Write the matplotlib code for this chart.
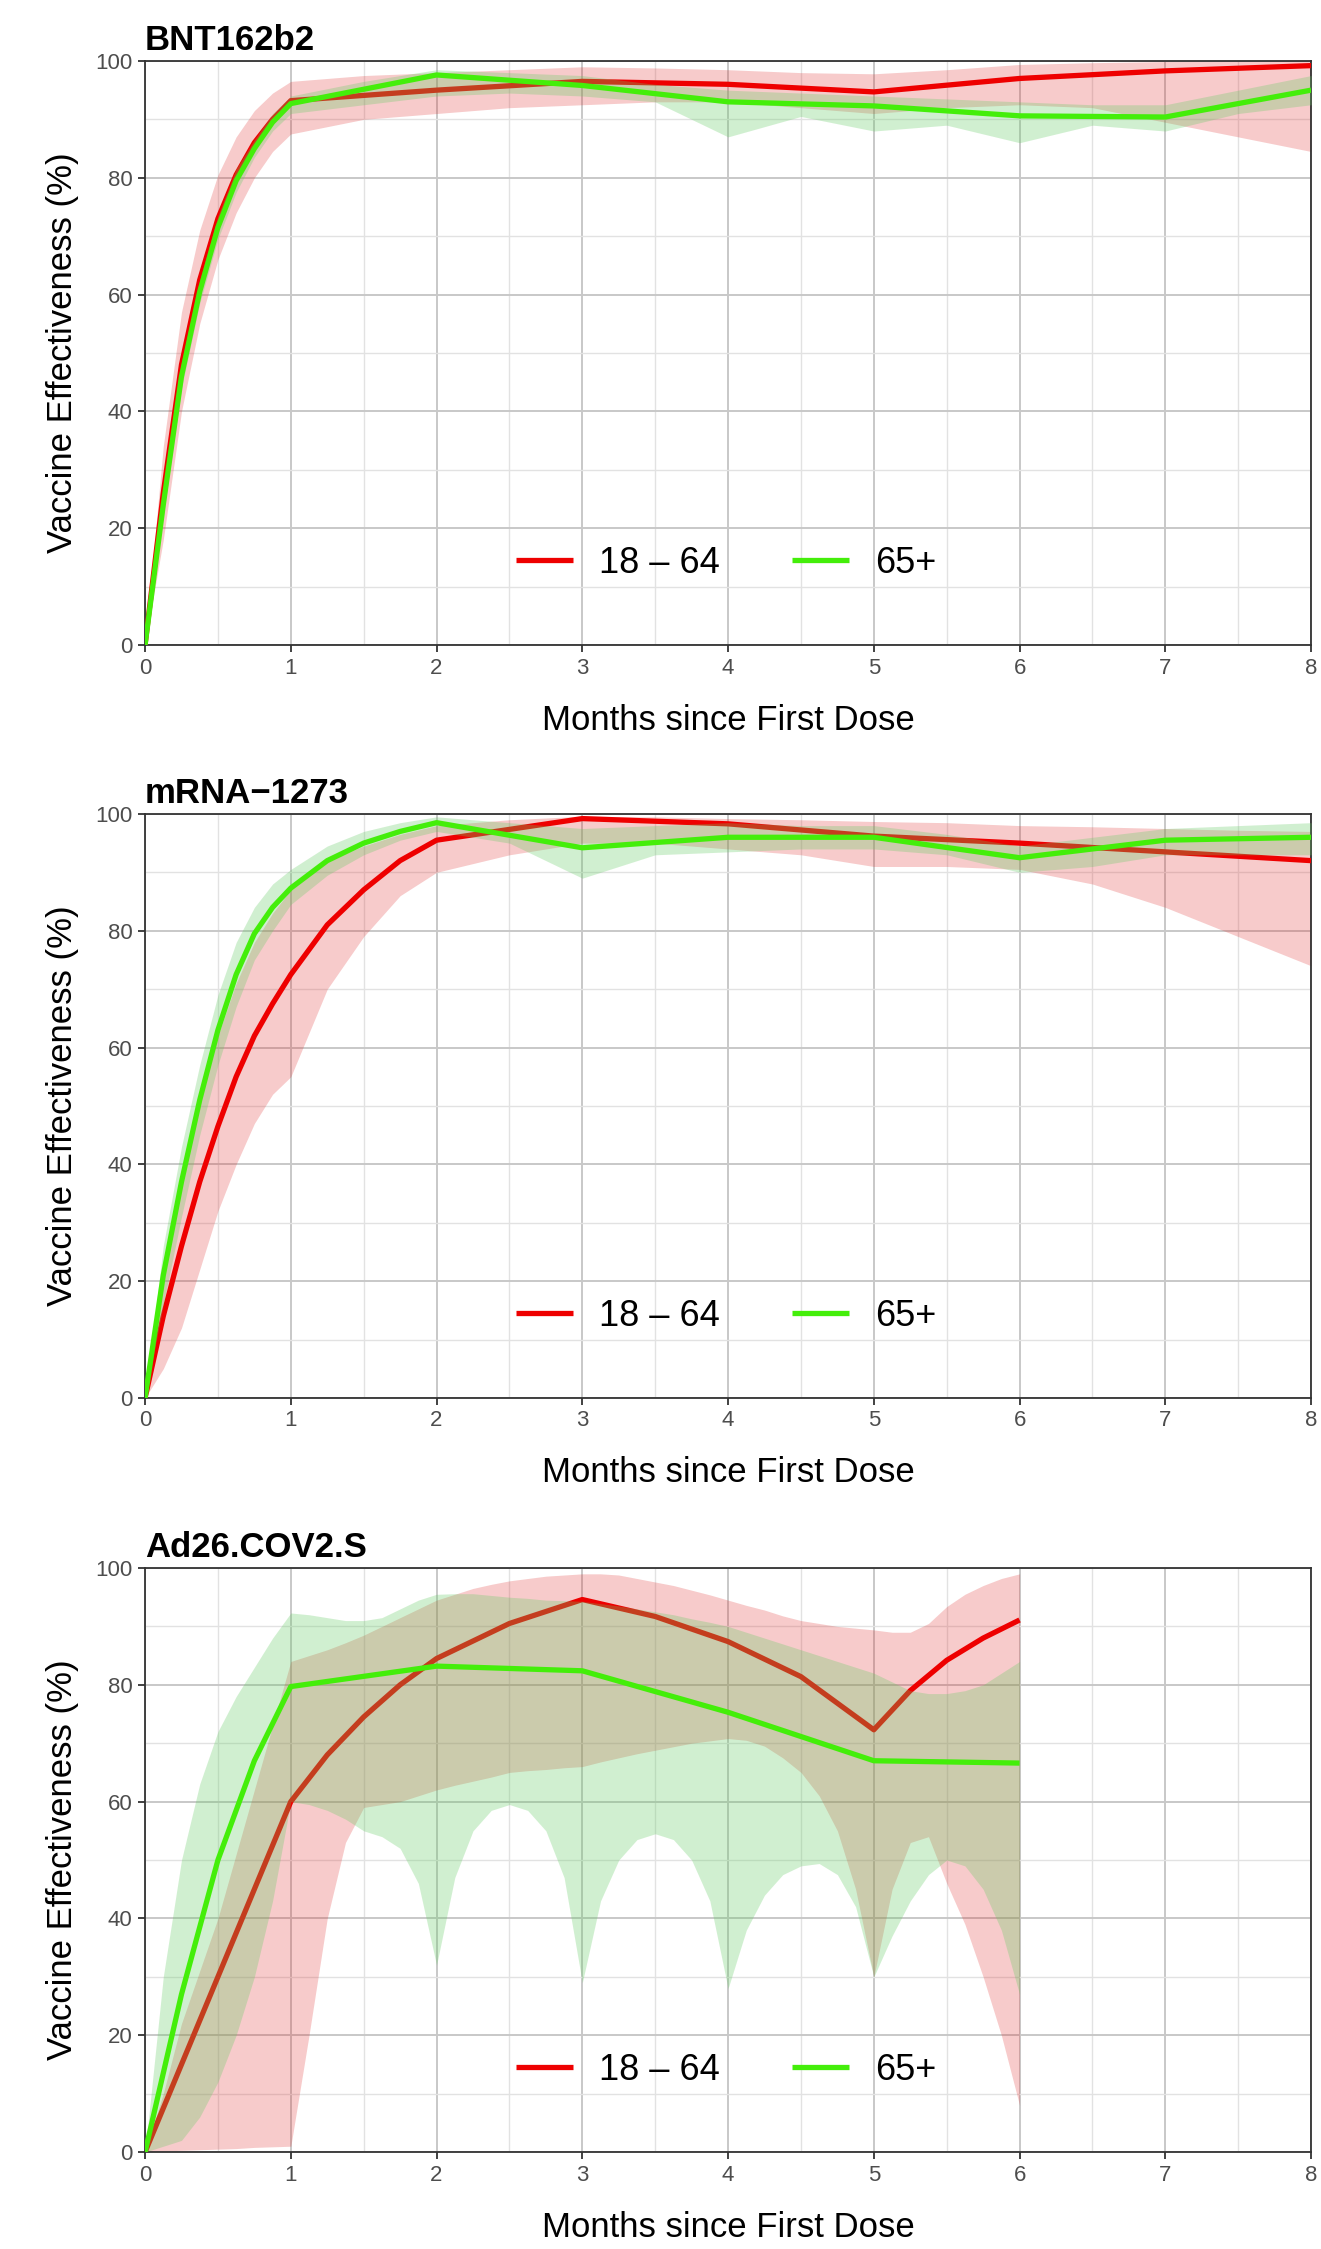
import matplotlib.pyplot as plt
import numpy as np

plt.rcParams['font.family'] = ['Liberation Sans', 'DejaVu Sans']

vaccines = ['BNT162b2', 'mRNA\u22121273', 'Ad26.COV2.S']
groups = ['18 \u2013 64', '65+']

# ---- BNT162b2 ----
bnt_line_x = [0, .125, .25, .375, .5, .625, .75, .875, 1, 2, 3, 4, 5, 6, 7, 8]
bnt_young = [0, 26, 48, 62.5, 73, 80.5, 86, 90, 93.2, 95, 96.5, 96, 94.7, 97, 98.3, 99.2]
bnt_old = [0, 24, 46, 60.5, 71.5, 79.5, 85, 89.5, 92.7, 97.6, 95.8, 93, 92.3, 90.6, 90.4, 95]
bnt_band_x = [0, .125, .25, .375, .5, .625, .75, .875, 1, 1.5, 2, 2.5, 3, 3.5, 4, 4.5, 5, 5.5, 6, 6.5, 7, 7.5, 8]
bnt_young_lo = [0, 18, 40, 55, 66, 74, 80, 84.5, 87.5, 90, 91, 92, 92.5, 93, 93, 92, 91, 92, 92.5, 92, 89.5, 87, 84.5]
bnt_young_hi = [0, 34, 57, 71, 80.5, 87, 91.5, 94.5, 96.5, 97.5, 98, 98.5, 99, 98.8, 98.5, 98, 97.8, 98.5, 99.4, 99.7, 99.9, 100, 100]
bnt_old_lo = [0, 22, 44, 58.5, 69.5, 77.5, 83.5, 88, 91, 92.5, 94, 94.5, 94, 93, 87, 90.5, 88, 89, 86, 89, 88, 91, 92.5]
bnt_old_hi = [0, 26, 48.5, 62.5, 73.5, 81.5, 86.5, 91, 94, 96.5, 98.5, 98, 97.5, 96, 95, 94.5, 94, 93.5, 93, 92.5, 92.5, 95, 97.5]

# ---- mRNA-1273 ----
mod_line_x = [0, .125, .25, .375, .5, .625, .75, .875, 1, 1.25, 1.5, 1.75, 2, 3, 4, 5, 6, 7, 8]
mod_young = [0, 14, 26, 37, 46.5, 55, 62, 67.5, 72.5, 81, 87, 92, 95.5, 99.2, 98.3, 96.2, 95, 93.5, 92]
mod_old = [0, 21, 37, 51, 63, 72.5, 79.5, 84, 87.3, 92, 95, 97, 98.5, 94.2, 96, 96, 92.5, 95.5, 96]
mod_band_x = [0, .125, .25, .375, .5, .625, .75, .875, 1, 1.25, 1.5, 1.75, 2, 2.5, 3, 3.5, 4, 4.5, 5, 5.5, 6, 6.5, 7, 7.5, 8]
mod_young_lo = [0, 5, 12, 22, 32, 40, 47, 52, 55, 70, 79, 86, 90, 93, 95, 95, 94, 93, 91, 91, 90.5, 88, 84, 79, 74]
mod_young_hi = [0, 23, 39, 51, 62, 71, 78, 83, 87, 92, 94.5, 96.5, 98, 99, 99.6, 99.5, 99.2, 99, 98.7, 98.5, 98, 97.8, 97.5, 97.2, 97]
mod_old_lo = [0, 16, 31, 45, 57, 67, 75, 80, 84.5, 89.5, 93, 95.5, 97, 95, 89, 93, 93.5, 94, 94, 93, 90, 91, 93, 93, 93]
mod_old_hi = [0, 26, 43, 57, 69, 78, 84, 88, 90.5, 94.5, 97, 98.5, 99.5, 98.5, 97.5, 98, 98.5, 98, 98, 96.5, 94.5, 96, 97.5, 98, 98.5]

# ---- Ad26.COV2.S ----
jj_young_x = [0, .25, .5, .75, 1, 1.25, 1.5, 1.75, 2, 2.5, 3, 3.5, 4, 4.5, 5, 5.25, 5.5, 5.75, 6]
jj_young = [0, 15, 30, 45, 60, 68, 74.5, 80, 84.5, 90.5, 94.6, 91.7, 87.4, 81.4, 72.3, 79, 84.2, 88, 91.1]
jj_old_x = [0, .25, .5, .75, 1, 2, 3, 4, 5, 6]
jj_old = [0, 27, 50, 67, 79.7, 83.2, 82.4, 75.3, 67, 66.6]
jj_band_x = [0, .125, .25, .375, .5, .625, .75, .875,
             1, 1.125, 1.25, 1.375, 1.5, 1.625, 1.75, 1.875,
             2, 2.125, 2.25, 2.375, 2.5, 2.625, 2.75, 2.875,
             3, 3.125, 3.25, 3.375, 3.5, 3.625, 3.75, 3.875,
             4, 4.125, 4.25, 4.375, 4.5, 4.625, 4.75, 4.875,
             5, 5.125, 5.25, 5.375, 5.5, 5.625, 5.75, 5.875, 6]
jj_young_lo = [0, .2, .3, .4, .5, .6, .8, .9,
               1, 20, 40, 53, 59, 59.5, 60, 61,
               62, 62.8, 63.5, 64.2, 65, 65.3, 65.5, 65.8,
               66, 66.8, 67.5, 68.2, 68.8, 69.4, 70, 70.4,
               70.8, 70.5, 69.5, 67.5, 65, 61, 55, 45,
               30, 45, 53, 54, 46, 39, 30, 20, 8]
jj_young_hi = [0, 10, 22, 31, 40, 51, 62, 73,
               84, 85, 86, 87.2, 88.5, 90, 91.5, 93,
               94.5, 95.5, 96.5, 97.2, 97.8, 98.2, 98.6, 98.8,
               99, 99, 98.8, 98.2, 97.6, 97, 96.2, 95.4,
               94.5, 93.6, 92.8, 91.8, 91, 90.5, 90, 89.7,
               89.4, 89, 89, 90.5, 93.4, 95.5, 97, 98.2, 99]
jj_old_lo = [0, 1, 2, 6, 12, 20, 30, 43,
             60, 59.5, 58.5, 57, 55, 54, 52, 46,
             32, 47, 55, 58.5, 59.5, 58.5, 55, 47,
             29, 43, 50, 53.5, 54.5, 53.5, 50, 43,
             28, 38, 44, 47.5, 49, 49.4, 47.5, 42,
             30, 37, 43, 47.5, 50, 49, 45, 38, 27]
jj_old_hi = [0, 30, 50, 63, 72, 78, 83, 88,
             92.3, 92, 91.5, 91, 91, 91.5, 93, 94.5,
             95.5, 95.6, 95.6, 95.3, 95, 94.8, 94.5, 94.4,
             94.3, 93.9, 93.5, 93, 92.5, 92, 91.3, 90.7,
             90, 89, 88, 87, 86, 85, 84, 83,
             82, 80.5, 79, 78.5, 78.5, 79, 80, 82, 84]

panels = [
    (bnt_line_x, bnt_young, bnt_line_x, bnt_old, bnt_band_x, bnt_young_lo, bnt_young_hi, bnt_old_lo, bnt_old_hi),
    (mod_line_x, mod_young, mod_line_x, mod_old, mod_band_x, mod_young_lo, mod_young_hi, mod_old_lo, mod_old_hi),
    (jj_young_x, jj_young, jj_old_x, jj_old, jj_band_x, jj_young_lo, jj_young_hi, jj_old_lo, jj_old_hi),
]

red = '#EE0000'
green = '#44EE0A'

fig = plt.figure(figsize=(13.21, 22.49), dpi=100)
bottoms = [0.7132, 0.3784, 0.0431]

for i, (yx, yv, ox, ov, bx, ylo, yhi, olo, ohi) in enumerate(panels):
    ax = fig.add_axes([0.1098, bottoms[i], 0.8827, 0.2597])
    ax.fill_between(bx, ylo, yhi, color='#E03030', alpha=0.25, lw=0, zorder=2)
    l1, = ax.plot(yx, yv, color=red, lw=3.8, zorder=3, solid_capstyle='butt')
    ax.fill_between(bx, olo, ohi, color='#66CC66', alpha=0.3, lw=0, zorder=4)
    l2, = ax.plot(ox, ov, color=green, lw=3.8, zorder=5, solid_capstyle='butt')

    ax.set_xlim(0, 8)
    ax.set_ylim(0, 100)
    ax.set_xticks(range(9))
    ax.set_yticks(range(0, 101, 20))
    ax.set_xticks(np.arange(0.5, 8, 1), minor=True)
    ax.set_yticks(range(10, 100, 20), minor=True)
    ax.tick_params(which='major', length=5, width=1.3, color='#333333',
                   labelsize=16, labelcolor='#4D4D4D', pad=4)
    ax.tick_params(which='minor', length=0)
    ax.grid(which='major', color='#C8C8C8', lw=1.4)
    ax.grid(which='minor', color='#E2E2E2', lw=1.0)
    ax.set_axisbelow(True)
    for s in ax.spines.values():
        s.set_color('#333333')
        s.set_linewidth(1.3)

    ax.set_title(vaccines[i], loc='left', fontweight='bold', fontsize=25, pad=8)
    ax.set_xlabel('Months since First Dose', fontsize=25, labelpad=18)
    ax.set_ylabel('Vaccine Effectiveness (%)', fontsize=25, labelpad=12)
    ax.legend([l1, l2], groups, loc='center', bbox_to_anchor=(0.498, 0.14), ncol=2,
              frameon=False, fontsize=26, handlelength=1.6, columnspacing=2.0,
              handletextpad=0.7)

fig.savefig('out.png', dpi=100, facecolor='white')
